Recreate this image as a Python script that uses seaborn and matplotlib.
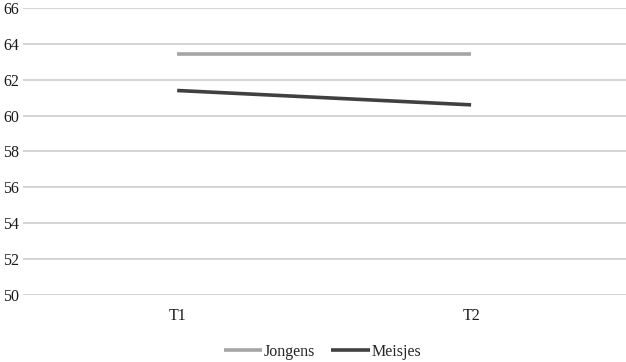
import pandas as pd
import seaborn as sns
from matplotlib import pyplot as plt

# data
tijdstippen = ['T1', 'T2']
jongens = [63.45, 63.45]
meisjes = [61.4, 60.6]
y_ticks = [50, 52, 54, 56, 58, 60, 62, 64, 66]

df = pd.DataFrame({
    'Tijd': tijdstippen * 2,
    'Score': jongens + meisjes,
    'Groep': ['Jongens'] * 2 + ['Meisjes'] * 2,
})
df['x'] = df['Tijd'].map({t: i for i, t in enumerate(tijdstippen)})

sns.set_style('white')
plt.rcParams['font.family'] = ['Liberation Serif', 'DejaVu Serif']

fig = plt.figure(figsize=(6.26, 3.62), dpi=100)
ax = fig.add_axes([0.037, 0.185, 0.963, 0.793])

sns.lineplot(data=df, x='x', y='Score', hue='Groep',
             palette={'Jongens': '#A5A5A5', 'Meisjes': '#404040'},
             linewidth=2.6, ax=ax, legend=True, solid_capstyle='butt')

ax.set_xlim(-0.524, 1.527)
ax.set_ylim(50, 66)
ax.set_yticks(y_ticks)
ax.set_xticks(range(len(tijdstippen)))
ax.set_xticklabels(tijdstippen)
ax.grid(axis='y', color='#D0D0D0', linewidth=1.3)
ax.set_axisbelow(True)
for s in ax.spines.values():
    s.set_visible(False)
ax.tick_params(axis='both', length=0, labelsize=11.5, colors='#1a1a1a')
ax.tick_params(axis='y', pad=3)
ax.tick_params(axis='x', pad=9)
ax.set_xlabel('')
ax.set_ylabel('')

handles, labels = ax.get_legend_handles_labels()
for h in handles:
    h.set_solid_capstyle('butt')
leg = ax.legend(handles, labels, loc='center', ncol=2, frameon=False,
                fontsize=11.5, handlelength=2.4, handletextpad=0.1,
                columnspacing=1.0)
leg.set_bbox_to_anchor((0.515, 0.028), transform=fig.transFigure)

fig.savefig('out.png', dpi=100)
plt.close()
